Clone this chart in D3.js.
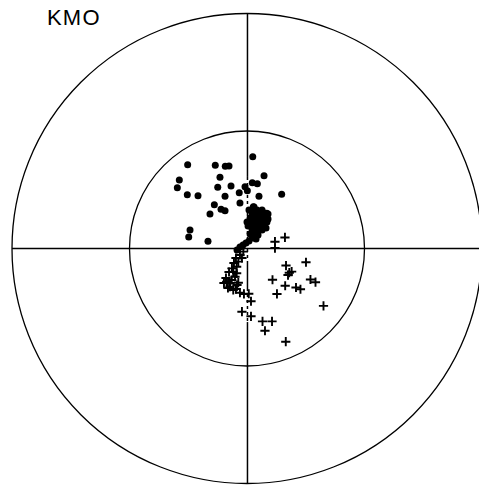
<!DOCTYPE html>
<html>
<head>
<meta charset="utf-8">
<script src="https://cdn.jsdelivr.net/npm/d3@7/dist/d3.min.js"></script>
<style>
  html, body { margin: 0; padding: 0; background: #fff; }
  svg { display: block; }
</style>
</head>
<body>
<svg id="chart" width="479" height="485"></svg>
<script>
// ---- Data (units: inner circle radius = 1, outer circle radius = 2) ----
const title = "KMO";
const rings = [1, 2];

// filled dots
const dotX = [0.049,-0.505,-0.270,-0.185,-0.153,0.145,-0.230,-0.576,-0.593,-0.249,-0.136,-0.017,0.045,0.088,0.003,-0.066,0.102,0.295,-0.508,-0.417,-0.187,-0.278,-0.060,-0.221,-0.187,-0.315,0.054,-0.485,-0.496,-0.332,0.168,
  0.060,0.085,0.043,0.077,0.111,0.145,0.162,0.026,0.060,0.102,0.136,0.170,0.034,0.068,0.111,0.145,0.043,0.085,0.128,0.060,0.094,0.043,0.017,-0.009,-0.034,-0.060,-0.085,
  0.017,0.128,0.179,0.009,0.162,0.094,0.051,0.128,0.179,0.077,0.026,0.000];
const dotY = [0.781,0.713,0.708,0.700,0.702,0.620,0.606,0.583,0.517,0.521,0.532,0.526,0.560,0.551,0.492,0.475,0.444,0.461,0.458,0.449,0.444,0.373,0.387,0.334,0.322,0.294,0.356,0.157,0.098,0.061,0.300,
  0.353,0.328,0.302,0.285,0.294,0.302,0.268,0.260,0.243,0.251,0.234,0.226,0.209,0.200,0.191,0.191,0.166,0.157,0.157,0.123,0.115,0.089,0.064,0.047,0.030,0.013,-0.013,
  0.328,0.328,0.294,0.191,0.174,0.226,0.277,0.260,0.251,0.081,0.123,0.226];

// plus markers
const crossX = [0.238,0.323,0.238,0.502,0.332,0.360,0.380,0.349,0.217,0.540,0.583,0.325,0.417,0.455,0.255,0.651,0.015,0.034,-0.043,0.034,0.132,0.213,0.153,0.330,
  -0.060,-0.031,-0.060,-0.094,-0.074,-0.111,-0.088,-0.128,-0.117,-0.153,-0.088,-0.102,-0.130,-0.173,-0.145,-0.074,-0.196,-0.145,-0.117,-0.094,-0.060,-0.026,
  -0.179,-0.085,-0.043,-0.162];
const crossY = [0.058,0.094,0.004,-0.117,-0.145,-0.206,-0.197,-0.226,-0.266,-0.264,-0.287,-0.317,-0.332,-0.347,-0.387,-0.488,-0.385,-0.449,-0.538,-0.577,-0.620,-0.620,-0.700,-0.793,
  0.000,-0.027,-0.055,-0.081,-0.112,-0.123,-0.155,-0.169,-0.197,-0.200,-0.211,-0.240,-0.268,-0.283,-0.294,-0.291,-0.294,-0.325,-0.353,-0.345,-0.376,-0.387,
  -0.251,-0.311,-0.081,-0.336];

// ---- Layout ----
const cx = 247, cy = 248.5, R = 235;
const svg = d3.select("#chart");
const x = d3.scaleLinear().domain([-2, 2]).range([cx - R, cx + R]);
const y = d3.scaleLinear().domain([-2, 2]).range([cy + R, cy - R]);
const r = d3.scaleLinear().domain([0, 2]).range([0, R]);

// rings
svg.selectAll("circle.ring").data(rings).join("circle")
  .attr("class", "ring")
  .attr("cx", x(0)).attr("cy", y(0))
  .attr("r", d => r(d))
  .attr("fill", "none").attr("stroke", "#000").attr("stroke-width", 1.3);

// crosshair: horizontal
svg.append("line")
  .attr("x1", x(-2)).attr("x2", x(2)).attr("y1", y(0)).attr("y2", y(0))
  .attr("stroke", "#000").attr("stroke-width", 1.5);

// crosshair: vertical, in segments (solid / dashed as in the source)
const vSegs = [
  {from: 2, to: 0.609, dash: null},
  {from: 0.609, to: -0.115, dash: "3,3"},
  {from: -0.115, to: -0.336, dash: null},
  {from: -0.336, to: -0.626, dash: "3,3"},
  {from: -0.626, to: -2, dash: null}
];
svg.selectAll("line.v").data(vSegs).join("line")
  .attr("class", "v")
  .attr("x1", x(0.004)).attr("x2", x(0.004))
  .attr("y1", d => y(d.from)).attr("y2", d => y(d.to))
  .attr("stroke", "#000").attr("stroke-width", 1.5)
  .attr("stroke-dasharray", d => d.dash);

// dots
svg.selectAll("circle.dot").data(d3.range(dotX.length)).join("circle")
  .attr("class", "dot")
  .attr("cx", i => x(dotX[i])).attr("cy", i => y(dotY[i]))
  .attr("r", 3.5).attr("fill", "#000");

// crosses
svg.selectAll("path.cross").data(d3.range(crossX.length)).join("path")
  .attr("class", "cross")
  .attr("transform", i => `translate(${x(crossX[i])},${y(crossY[i])})`)
  .attr("d", "M-4.6,0H4.6M0,-4.6V4.6")
  .attr("fill", "none").attr("stroke", "#000").attr("stroke-width", 1.9);

// title
svg.append("text")
  .attr("x", 47).attr("y", 25)
  .attr("font-family", "Liberation Sans, Arial, sans-serif")
  .attr("font-size", 22)
  .attr("letter-spacing", 1.2)
  .attr("fill", "#000")
  .text(title);
</script>
</body>
</html>
